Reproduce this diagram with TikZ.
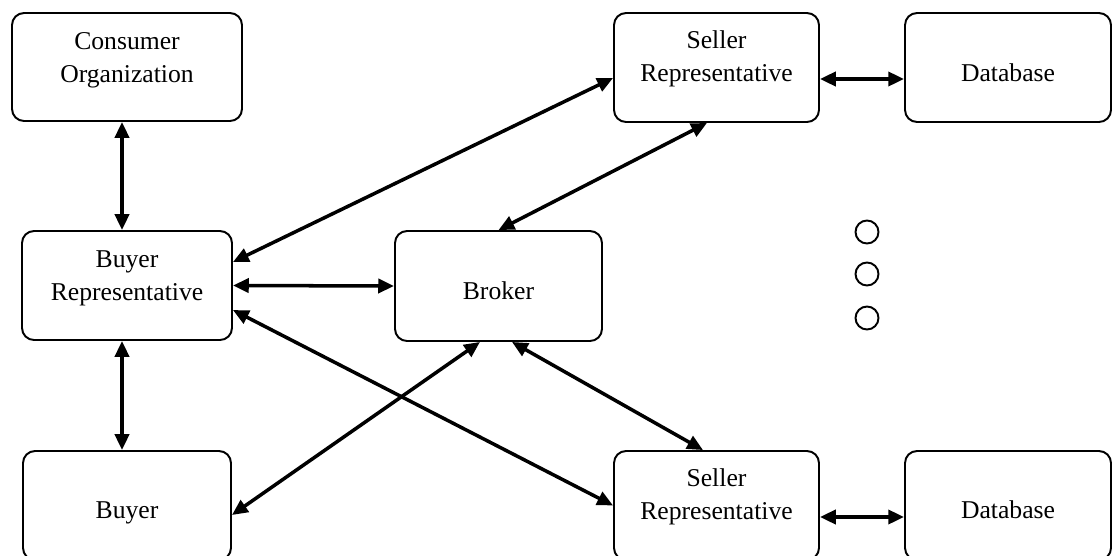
\documentclass[tikz,border=0pt]{standalone}
\usepackage{fontspec}
\setmainfont{Liberation Serif}
\usetikzlibrary{arrows.meta, positioning, calc}

\begin{document}
\begin{tikzpicture}[x=0.02cm, y=-0.02cm,
		box/.style={draw, line width=1.1pt, rounded corners=0.24cm, inner sep=0pt, minimum width=#1, minimum height=2.18cm},
		box/.default=4.1cm,
		txt/.style={font=\fontsize{14.6}{18.7}\selectfont, align=center, inner sep=0pt},
		dot/.style={draw, circle, line width=1.1pt, minimum size=0.46cm, inner sep=0pt},
		link/.style={{Triangle[length=9pt, width=8pt]}-{Triangle[length=9pt, width=8pt]}, line width=2pt}]
	\useasboundingbox (0,0) rectangle (1112,555);
	% left column
	\node[box=4.6cm, minimum height=2.16cm, label={[txt, name=consT, yshift=0.14cm]center:{Consumer\\Organization}}] (cons) at (127,67) {};
	\node[box=4.2cm, label={[txt, name=brepT, yshift=0.14cm]center:{Buyer\\Representative}}] (brep) at (127,285.5) {};
	\node[box=4.16cm, label={[txt, name=buyerT, yshift=-0.15cm]center:Buyer}] (buyer) at (127,505.5) {};
	% middle
	\node[box=4.14cm, minimum height=2.2cm, label={[txt, name=brokerT, yshift=-0.1cm]center:Broker}] (broker) at (498.5,286) {};
	% sellers and their databases
	\node[box, label={[txt, name=srepAT, yshift=0.18cm]center:{Seller\\Representative}}] (srepA) at (716.5,67.5) {};
	\node[box=4.12cm, label={[txt, name=dbAT, yshift=-0.11cm]center:Database}] (dbA) at (1008,67.5) {};
	\node[box, label={[txt, name=srepBT, yshift=0.18cm]center:{Seller\\Representative}}] (srepB) at (716.5,505.5) {};
	\node[box=4.12cm, label={[txt, name=dbBT, yshift=-0.09cm]center:Database}] (dbB) at (1008,505.5) {};
	% more sellers
	\node[dot] (more1) at (867,232) {};
	\node[dot] (more2) at (867,274) {};
	\node[dot] (more3) at (867,318) {};

	\draw[link] ([xshift=-0.1cm]cons.south) -- ([xshift=-0.1cm]brep.north);
	\draw[link] ([xshift=-0.1cm]brep.south) -- ([xshift=-0.1cm]buyer.north);
	\draw[link] (brep.east) -- (broker.west);
	\draw[link] ([yshift=0.47cm]brep.east) -- ([yshift=-0.21cm]srepA.west);
	\draw[link] ([yshift=-0.49cm]brep.east) -- (srepB.west);
	\draw[link] (broker.north) -- ([xshift=-0.19cm]srepA.south);
	\draw[link] ([xshift=0.27cm]broker.south) -- ([xshift=-0.27cm]srepB.north);
	\draw[link] ([xshift=-0.37cm]broker.south) -- ([yshift=-0.19cm]buyer.east);
	\draw[link] ([yshift=-0.23cm]srepA.east) -- ([yshift=-0.23cm]dbA.west);
	\draw[link] ([yshift=-0.23cm]srepB.east) -- ([yshift=-0.23cm]dbB.west);
\end{tikzpicture}
\end{document}
